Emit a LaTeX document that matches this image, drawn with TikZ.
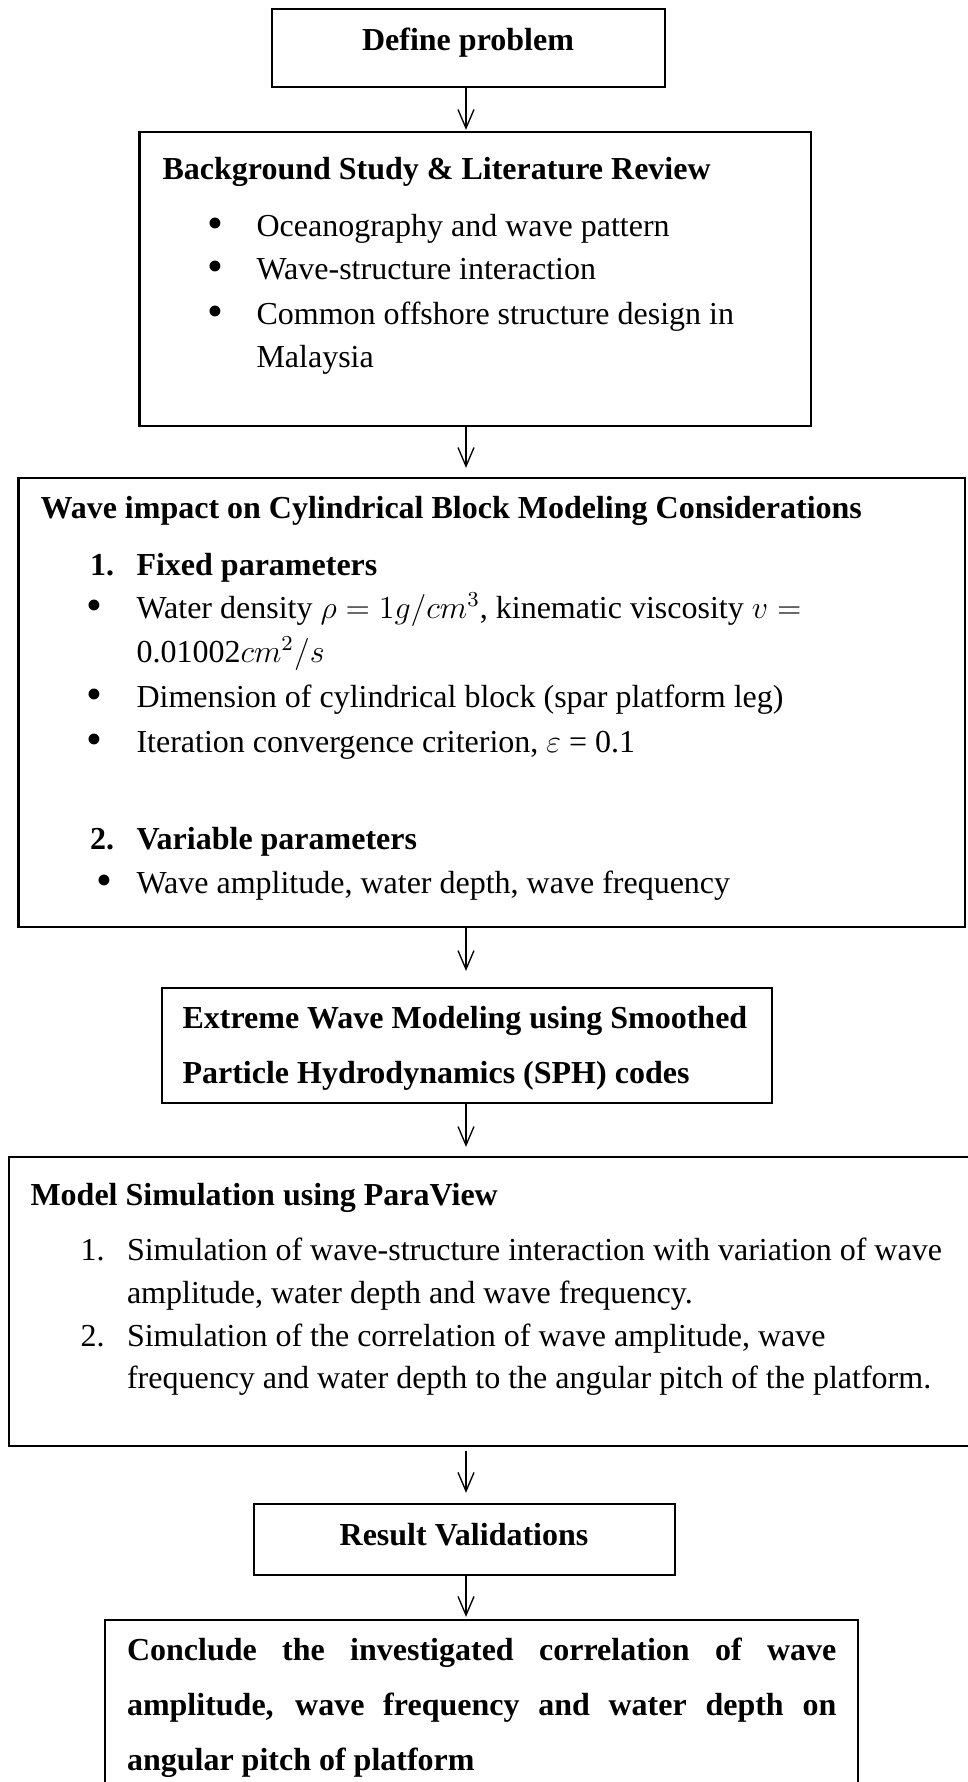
\documentclass[tikz,border=0pt]{standalone}
\usepackage{amsmath,amssymb}
\usepackage{fontspec}
\setmainfont{Liberation Serif}
\usepackage{tikz}
\usetikzlibrary{arrows.meta,positioning,fit}

\begin{document}
\begin{tikzpicture}[>={Straight Barb[length=7pt,width=6pt]}, x=0.375pt, y=-0.375pt,
        box/.style={draw, line width=0.8pt, rectangle, inner sep=0pt},
        txt/.style={anchor=base west, inner sep=0pt, font=\fontsize{12}{14}\selectfont},
        head/.style={txt, font=\fontsize{12}{14}\selectfont\bfseries},
        dot/.style={anchor=base, inner sep=0pt, font=\fontsize{17}{17}\selectfont},
        flow/.style={line width=0.5pt, ->}]
        \path[use as bounding box, clip] (0,0) rectangle (968,1782);

        \path 
        (466,0) coordinate (spine)
        ;

        % boxes
        \node[box, fit={(272,9) (665,87)}] (b1) {};
        \node[box, fit={(139.5,132) (811,426)}] (b2) {};
        \node[box, fit={(18.5,478) (965,927)}] (b3) {};
        \node[box, fit={(162,988) (772,1103)}] (b4) {};
        \node[box, fit={(9,1157) (1000,1446)}] (b5) {};
        \node[box, fit={(254,1504) (675,1575)}] (b6) {};
        \node[box, fit={(105,1620) (858,1810)}] (b7) {};

        \path 
        (468,51) node[head, anchor=base] (t1) {Define problem}
        ;

        \path 
        (162,180) node[head] (h2) {Background Study \& Literature Review}
        (215,239) node[dot] (d21) {\textbullet}
        (215,282) node[dot] (d22) {\textbullet}
        (215,327) node[dot] (d23) {\textbullet}
        (256,237) node[txt] (t21) {Oceanography and wave pattern}
        (256,280) node[txt] (t22) {Wave-structure interaction}
        (256,325) node[txt] (t23) {Common offshore structure design in}
        (256,368) node[txt] (t24) {Malaysia}
        ;

        \path 
        (40,518) node[head] (h3) {Wave impact on Cylindrical Block Modeling Considerations}
        (89.5,575) node[head] (n31) {1.}
        (136,575) node[head] (s31) {Fixed parameters}
        (94,620) node[dot] (d31) {\textbullet}
        (136,618) node[txt] (t31) {Water density $\rho = 1g/cm^3$, kinematic viscosity $v =$}
        (136,662) node[txt] (t32) {0.01002$cm^2/s$}
        (94,709) node[dot] (d32) {\textbullet}
        (136,707) node[txt] (t33) {Dimension of cylindrical block (spar platform leg)}
        (94,754) node[dot] (d33) {\textbullet}
        (136,752) node[txt] (t34) {Iteration convergence criterion, $\varepsilon$ = 0.1}
        (89.5,849) node[head] (n32) {2.}
        (136,849) node[head] (s32) {Variable parameters}
        (104,895) node[dot] (d34) {\textbullet}
        (136,893) node[txt] (t35) {Wave amplitude, water depth, wave frequency}
        ;

        \path 
        (182,1028) node[head] (t41) {Extreme Wave Modeling using Smoothed}
        (182,1083) node[head] (t42) {Particle Hydrodynamics (SPH) codes}
        ;

        \path 
        (30,1205) node[head] (h5) {Model Simulation using ParaView}
        (80,1260) node[txt] (n51) {1.}
        (126.5,1260) node[txt] (t51) {Simulation of wave-structure interaction with variation of wave}
        (126.5,1303) node[txt] (t52) {amplitude, water depth and wave frequency.}
        (80,1346) node[txt] (n52) {2.}
        (126.5,1346) node[txt] (t53) {Simulation of the correlation of wave amplitude, wave}
        (126.5,1388) node[txt] (t54) {frequency and water depth to the angular pitch of the platform.}
        ;

        \path 
        (464,1545) node[head, anchor=base] (t6) {Result Validations}
        ;

        \path 
        (126.5,1660) node[head] (t71) {\makebox[266pt][s]{Conclude the investigated correlation of wave}}
        (126.5,1715) node[head] (t72) {\makebox[266pt][s]{amplitude, wave frequency and water depth on}}
        (126.5,1770) node[head] (t73) {angular pitch of platform}
        ;

        % arrows
        \draw[flow, shorten >=0.4pt] (b1.south -| spine) to (b2.north -| spine);
        \draw[flow, shorten >=3.4pt] (b2.south -| spine) to (b3.north -| spine);
        \draw[flow, shorten >=6pt] (b3.south -| spine) to (b4.north -| spine);
        \draw[flow, shorten >=3.4pt] (b4.south -| spine) to (b5.north -| spine);
        \draw[flow, shorten <=1.5pt, shorten >=3.8pt] (b5.south -| spine) to (b6.north -| spine);
        \draw[flow, shorten >=0.8pt] (b6.south -| spine) to (b7.north -| spine);
\end{tikzpicture}
\end{document}
